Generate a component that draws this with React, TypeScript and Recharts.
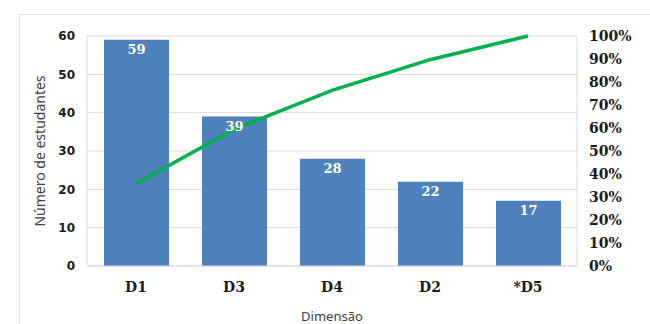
import { ComposedChart, Bar, Line, XAxis, YAxis, CartesianGrid, LabelList } from 'recharts'

const dimensions = ['D1', 'D3', 'D4', 'D2', '*D5']
const students = [59, 39, 28, 22, 17]
const cumulativePct = [0.358, 0.594, 0.764, 0.897, 1.0]

const leftTicks = [0, 10, 20, 30, 40, 50, 60]
const rightTicks = [0, 0.1, 0.2, 0.3, 0.4, 0.5, 0.6, 0.7, 0.8, 0.9, 1.0]

const data = dimensions.map((d, i) => ({
  name: d,
  students: students[i],
  cum: cumulativePct[i],
}))

const grid = '#d9d9d9'
const serif = 'DejaVu Serif'
const sans = 'DejaVu Sans'
const labelFont = 'Noto Sans'

export default function App() {
  return (
    <div style={{ position: 'absolute', left: 0, top: 0, width: 650, height: 324, background: '#fff' }}>
      <div
        style={{
          position: 'absolute',
          left: 19,
          top: 14,
          width: 640,
          height: 320,
          borderTop: '1px solid #e6e6e6',
          borderLeft: '1px solid #e6e6e6',
        }}
      />
      <ComposedChart width={650} height={324} data={data} margin={{ top: 36, right: 0, bottom: 0, left: 0 }}>
        <CartesianGrid vertical={false} stroke={grid} yAxisId="left" />
        <XAxis
          dataKey="name"
          height={58}
          tickLine={false}
          axisLine={{ stroke: grid }}
          tickMargin={10}
          tick={{ fill: '#1a1a1a', fontFamily: serif, fontWeight: 'bold', fontSize: 14 }}
          label={{
            value: 'Dimensão',
            position: 'insideBottom',
            offset: 3,
            fill: '#404040',
            style: { fontFamily: labelFont, fontSize: 13 },
          }}
        />
        <YAxis
          yAxisId="left"
          width={87}
          domain={[0, 60]}
          ticks={leftTicks}
          tickLine={false}
          axisLine={{ stroke: grid }}
          tickMargin={6}
          tick={{ fill: '#1a1a1a', fontFamily: sans, fontWeight: 'bold', fontSize: 12 }}
          label={{
            value: 'Número de estudantes',
            angle: -90,
            position: 'insideLeft',
            offset: 40,
            fill: '#404040',
            style: { textAnchor: 'middle', fontFamily: labelFont, fontSize: 14 },
          }}
        />
        <YAxis
          yAxisId="right"
          orientation="right"
          width={73}
          domain={[0, 1]}
          ticks={rightTicks}
          tickLine={false}
          axisLine={{ stroke: grid }}
          tickMargin={6}
          tickFormatter={(v: number) => `${Math.round(v * 100)}%`}
          tick={{ fill: '#1a1a1a', fontFamily: serif, fontWeight: 'bold', fontSize: 14, textAnchor: 'start' }}
        />
        <Bar yAxisId="left" dataKey="students" fill="#4F81BD" barSize={65} isAnimationActive={false}>
          <LabelList
            dataKey="students"
            position="insideTop"
            fill="#fff"
            fontFamily={serif}
            fontWeight="bold"
            fontSize={13}
          />
        </Bar>
        <Line
          yAxisId="right"
          dataKey="cum"
          stroke="#00B050"
          strokeWidth={3.5}
          dot={false}
          type="linear"
          isAnimationActive={false}
        />
      </ComposedChart>
    </div>
  )
}
